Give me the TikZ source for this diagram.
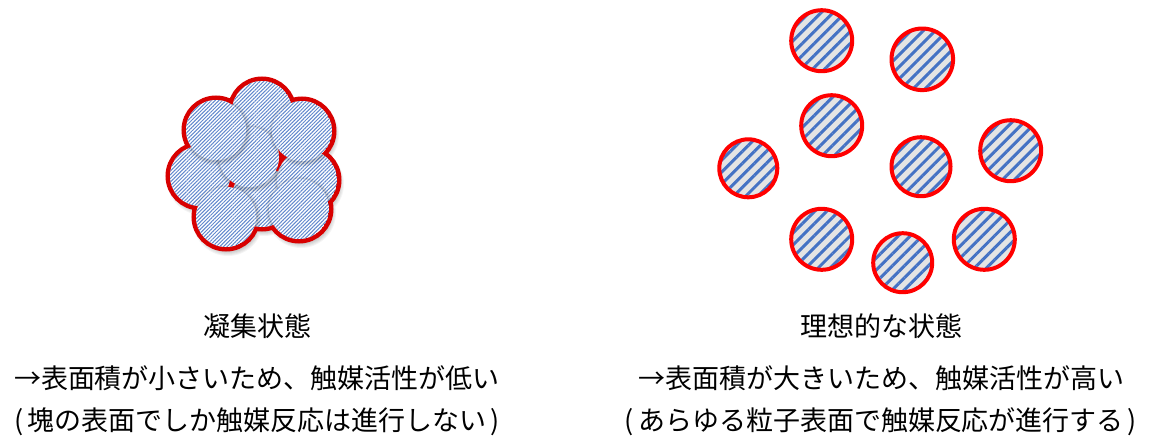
\documentclass[tikz,border=0pt]{standalone}
\usepackage{fontspec}
\newfontfamily\jpfont{Noto Sans CJK JP}
\usetikzlibrary{patterns.meta}
\definecolor{stripeblue}{HTML}{4472C4}
\definecolor{partgray}{HTML}{E4E4E4}
\definecolor{clumpred}{HTML}{D80000}

% centres of the grains of the clump, back to front
\def\clumplist{262/197,262/111,307/180,200/176,249/157,226/217,299/209,216/130,302/131}
% free particles: x/y/radius
\def\freelist{821.7/40.7/30.5,922.3/59.3/30.8,831.7/125.7/30.5,748.3/168.3/29,921/166.7/29.5,1010.7/150.7/30.5,821.7/239.3/30.5,902.7/262.7/29.5,984.3/239.3/30.5}

\begin{document}
\begin{tikzpicture}[x=1pt,y=-1pt,
  caption/.style={font=\jpfont\fontsize{27}{27}\selectfont, anchor=base, inner sep=0pt},
  particle/.style={draw=red, line width=4pt, preaction={fill=partgray},
    pattern={Lines[angle=45,distance=8.5pt,line width=3pt]}, pattern color=stripeblue},
  grain/.style={preaction={fill=white},
    pattern={Lines[angle=45,distance=2.6pt,line width=1pt]}, pattern color=stripeblue!85}
]
\useasboundingbox (0,0) rectangle (1152,437);

% ---- aggregated clump ----
% soft drop shadow
\foreach \k in {1,...,5}{
  \fill[black, opacity=0.045] \foreach \x/\y in \clumplist {(\x+2,\y+4) circle[radius=30+\k]};
}
% red outline around the whole clump
\draw[clumpred, line width=9pt] \foreach \x/\y in \clumplist {(\x,\y) circle[radius=30]};
% the grains, each casting a soft shadow on those beneath
\begin{scope}
  \clip \foreach \x/\y in \clumplist {(\x,\y) circle[radius=30]};
  \foreach \x/\y in \clumplist {
    \foreach \k in {1,...,4}{
      \fill[black, opacity=0.045] (\x+1,\y+1.5) circle[radius=30+\k];
    }
    \path[grain] (\x,\y) circle[radius=30];
  }
\end{scope}

% ---- dispersed particles ----
\foreach \x/\y/\r in \freelist {
  \path[particle] (\x,\y) circle[radius=\r];
}

% ---- captions ----
\node[caption] (aggTitle) at (257,336.5) {凝集状態};
\node[caption] (aggLineA) at (257,388.5) {→表面積が小さいため、触媒活性が低い};
\node[caption] (aggLineB) at (257,430) {(\kern4pt 塊の表面でしか触媒反応は進行しない\kern4pt)};

\node[caption] (dispTitle) at (881,336.5) {理想的な状態};
\node[caption] (dispLineA) at (881,388.5) {→表面積が大きいため、触媒活性が高い};
\node[caption] (dispLineB) at (881,430) {(\kern4pt あらゆる粒子表面で触媒反応が進行する\kern4pt)};
\end{tikzpicture}
\end{document}
